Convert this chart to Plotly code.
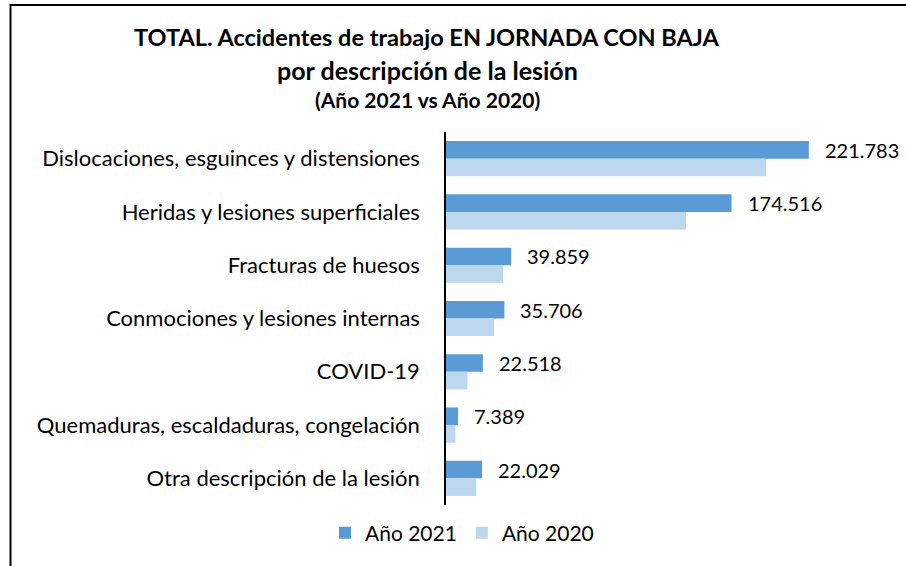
import plotly.graph_objects as go

categories = [
    "Dislocaciones, esguinces y distensiones",
    "Heridas y lesiones superficiales",
    "Fracturas de huesos",
    "Conmociones y lesiones internas",
    "COVID-19",
    "Quemaduras, escaldaduras, congelación",
    "Otra descripción de la lesión",
]
values_2021 = [221783, 174516, 39859, 35706, 22518, 7389, 22029]
values_2020 = [195800, 146700, 34900, 29400, 13100, 5800, 18400]
series_names = ["Año 2021", "Año 2020"]
title_lines = [
    "TOTAL. Accidentes de trabajo EN JORNADA CON BAJA",
    "por descripción de la lesión",
    "(Año 2021 vs Año 2020)",
]

W, H = 906, 566
ML, MR, MT, MB = 446, 51, 132, 61
PW = W - ML - MR
PH = H - MT - MB
XMAX = 250000

def px(xp):
    return (xp - ML) / PW

def py(yp):
    return (H - MB - yp) / PH

FONT = "Lato"
C2021 = "#5B9BD5"
C2020 = "#BDD7EE"

fig = go.Figure()
fig.add_trace(go.Bar(
    y=categories, x=values_2021, name=series_names[0], orientation="h",
    marker=dict(color=C2021, line=dict(width=0)),
))
fig.add_trace(go.Bar(
    y=categories, x=values_2020, name=series_names[1], orientation="h",
    marker=dict(color=C2020, line=dict(width=0)),
))

bargap = 0.34
cat_px = PH / len(categories)
shift = (1 - bargap) / 4 * cat_px

annotations = []
for c, v in zip(categories, values_2021):
    annotations.append(dict(
        x=v, y=c, xref="x", yref="y", text=f"{v:,}".replace(",", "."),
        showarrow=False, xanchor="left", yanchor="middle",
        xshift=14, yshift=shift,
        font=dict(family=FONT, size=20, color="#000000"),
    ))

title_y = [37, 70, 100]
title_sizes = [23.5, 25, 21]
for t, yy, s in zip(title_lines, title_y, title_sizes):
    annotations.append(dict(
        x=px(427), y=py(yy), xref="paper", yref="paper", text=f"<b>{t}</b>",
        showarrow=False, xanchor="center", yanchor="middle",
        font=dict(family=FONT, size=s, color="#000000"),
    ))

fig.update_layout(
    width=W, height=H,
    margin=dict(l=ML, r=MR, t=MT, b=MB, pad=0),
    paper_bgcolor="white", plot_bgcolor="white",
    barmode="group", bargap=bargap, bargroupgap=0,
    showlegend=True,
    legend=dict(
        orientation="h", x=px(462), y=py(533), xanchor="center", yanchor="middle",
        font=dict(family=FONT, size=21, color="#000000"),
        itemwidth=30, traceorder="normal",
    ),
    xaxis=dict(range=[0, XMAX], visible=False, showgrid=False, zeroline=False),
    yaxis=dict(
        autorange="reversed", showline=True, linecolor="#000000", linewidth=1.5,
        ticks="", showgrid=False, ticklabelstandoff=20,
        tickfont=dict(family=FONT, size=22, color="#000000"),
    ),
    annotations=annotations,
    shapes=[dict(
        type="rect", xref="paper", yref="paper",
        x0=px(10.5), x1=px(912), y0=py(572), y1=py(5),
        line=dict(color="#000000", width=2), fillcolor="rgba(0,0,0,0)", layer="below",
    )],
)

post = ("document.body.style.margin='0';document.body.style.padding='0';"
        "document.body.style.overflow='hidden';"
        "document.documentElement.style.overflow='hidden';")
fig.write_html("out.html", post_script=post, config={"displayModeBar": False})
